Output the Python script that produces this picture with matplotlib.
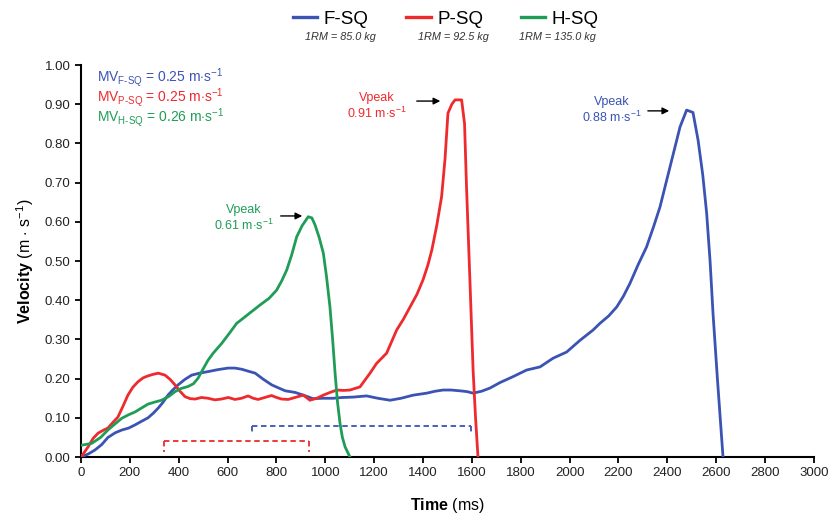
import matplotlib
matplotlib.use("Agg")
import matplotlib.pyplot as plt
from matplotlib.lines import Line2D

plt.rcParams["font.family"] = ["Liberation Sans", "DejaVu Sans"]
plt.rcParams["mathtext.fontset"] = "custom"
plt.rcParams["mathtext.rm"] = "Liberation Sans"
plt.rcParams["mathtext.it"] = "Liberation Sans:italic"
plt.rcParams["mathtext.bf"] = "Liberation Sans:bold"

BLUE = "#3b53b3"
RED = "#ee2a2d"
GREEN = "#1f9d57"

# F-SQ (blue)
fsq_time = [0, 30, 57, 85, 110, 140, 167, 195, 221, 250, 274, 296, 316, 336, 356, 377, 397, 425,
            453, 485, 520, 560, 602, 630, 658, 685, 713, 745, 781, 810, 836, 876, 910, 950, 990,
            1032, 1070, 1114, 1169, 1215, 1265, 1310, 1360, 1415, 1450, 1482, 1515, 1551, 1580,
            1605, 1640, 1674, 1715, 1768, 1824, 1879, 1932, 1988, 2043, 2096, 2124, 2160, 2193,
            2220, 2247, 2280, 2315, 2345, 2370, 2411, 2452, 2479, 2505, 2526, 2545, 2561, 2575,
            2587, 2605, 2628]
fsq_vel = [0, 0.008, 0.018, 0.032, 0.05, 0.062, 0.069, 0.074, 0.082, 0.092, 0.10, 0.112, 0.125,
           0.14, 0.158, 0.172, 0.184, 0.198, 0.209, 0.214, 0.218, 0.223, 0.227, 0.227, 0.224, 0.219,
           0.214, 0.199, 0.184, 0.176, 0.169, 0.165, 0.158, 0.149, 0.150, 0.150, 0.152, 0.153, 0.156,
           0.150, 0.145, 0.150, 0.158, 0.163, 0.168, 0.171, 0.171, 0.169, 0.167, 0.163, 0.168, 0.176,
           0.19, 0.205, 0.222, 0.230, 0.252, 0.268, 0.298, 0.324, 0.341, 0.36, 0.383, 0.41, 0.443,
           0.49, 0.536, 0.59, 0.638, 0.74, 0.842, 0.885, 0.879, 0.808, 0.72, 0.622, 0.5, 0.367, 0.2, 0.0]

# P-SQ (red)
psq_time = [0, 29, 50, 70, 90, 110, 130, 151, 172, 192, 212, 233, 254, 274, 295, 316, 344, 365, 385,
            405, 426, 447, 467, 493, 520, 548, 575, 603, 630, 657, 684, 705, 725, 752, 780, 800, 821,
            848, 876, 910, 937, 965, 992, 1020, 1047, 1075, 1101, 1142, 1183, 1210, 1251, 1292, 1320,
            1347, 1375, 1400, 1420, 1436, 1456, 1476, 1490, 1502, 1518, 1531, 1558, 1570, 1578, 1592,
            1605, 1615, 1625]
psq_vel = [0, 0.026, 0.048, 0.061, 0.068, 0.074, 0.088, 0.102, 0.13, 0.158, 0.178, 0.192, 0.202,
           0.207, 0.211, 0.214, 0.209, 0.198, 0.184, 0.168, 0.154, 0.149, 0.148, 0.152, 0.150, 0.146,
           0.148, 0.152, 0.147, 0.150, 0.156, 0.150, 0.147, 0.152, 0.157, 0.152, 0.148, 0.147, 0.152,
           0.158, 0.145, 0.150, 0.158, 0.165, 0.171, 0.170, 0.171, 0.179, 0.214, 0.239, 0.265, 0.324,
           0.352, 0.383, 0.415, 0.452, 0.49, 0.528, 0.59, 0.664, 0.76, 0.877, 0.90, 0.911, 0.911,
           0.85, 0.69, 0.45, 0.222, 0.10, 0.0]

# H-SQ (green)
hsq_time = [0, 44, 80, 110, 140, 167, 195, 221, 250, 274, 300, 330, 360, 385, 410, 438, 460, 479,
            500, 520, 541, 576, 610, 637, 680, 733, 770, 801, 822, 842, 862, 883, 905, 930, 945, 958,
            975, 992, 1005, 1019, 1030, 1040, 1050, 1060, 1070, 1081, 1101]
hsq_vel = [0.03, 0.035, 0.05, 0.069, 0.085, 0.099, 0.108, 0.115, 0.126, 0.135, 0.14, 0.145, 0.155,
           0.167, 0.175, 0.180, 0.187, 0.201, 0.225, 0.247, 0.265, 0.29, 0.318, 0.341, 0.362, 0.388,
           0.405, 0.426, 0.45, 0.477, 0.515, 0.562, 0.59, 0.613, 0.61, 0.592, 0.56, 0.52, 0.46,
           0.383, 0.3, 0.214, 0.14, 0.087, 0.05, 0.026, 0.0]

series_names = ["F-SQ", "P-SQ", "H-SQ"]
one_rm_labels = ["1RM = 85.0 kg", "1RM = 92.5 kg", "1RM = 135.0 kg"]
mean_velocities = [0.25, 0.25, 0.26]
peak_velocities = [0.88, 0.91, 0.61]

# dashed phase brackets: start, end (ms) and level (m/s)
red_phase = (340, 935, 0.04)
blue_phase = (700, 1595, 0.08)


def draw_bracket(ax, phase, drop, color):
    start, end, level = phase
    kw = dict(color=color, linestyle=(0, (3, 2)), linewidth=1.3)
    ax.plot([start, end], [level, level], **kw)
    ax.plot([start, start], [level, level - drop], **kw)
    ax.plot([end, end], [level, level - drop], **kw)


def main():
    fig = plt.figure(figsize=(8.3, 5.2), dpi=100)
    ax = fig.add_axes([0.0976, 0.121, 0.883, 0.754])

    colors = [BLUE, RED, GREEN]
    ax.plot(fsq_time, fsq_vel, color=BLUE, linewidth=2.0, zorder=3)
    ax.plot(psq_time, psq_vel, color=RED, linewidth=2.0, zorder=3)
    ax.plot(hsq_time, hsq_vel, color=GREEN, linewidth=2.0, zorder=3)

    draw_bracket(ax, red_phase, 0.027, RED)
    draw_bracket(ax, blue_phase, 0.024, BLUE)

    ax.set_xlim(0, 3000)
    ax.set_ylim(0, 1.0)
    ax.set_xticks(range(0, 3001, 200))
    ax.set_yticks([i / 10 for i in range(11)])
    ax.set_yticklabels([f"{i / 10:.2f}" for i in range(11)])
    for side in ("top", "right"):
        ax.spines[side].set_visible(False)
    for side in ("left", "bottom"):
        ax.spines[side].set_linewidth(1.5)
    ax.tick_params(direction="out", length=4, width=1.3, labelsize=9.5, labelcolor="#222222")

    ax.set_xlabel(r"$\mathbf{Time}$ (ms)", fontsize=11.5, labelpad=12)
    ax.set_ylabel(r"$\mathbf{Velocity}$ (m $\cdot$ s$^{-1}$)", fontsize=11.5, labelpad=6)

    # mean velocity labels
    for i, (name, mv, color) in enumerate(zip(series_names, mean_velocities, colors)):
        ax.text(0.022, 0.969 - i * 0.052,
                rf"MV$_{{\text{{{name}}}}}$ = {mv:.2f} m$\cdot$s$^{{-1}}$",
                transform=ax.transAxes, color=color, fontsize=10, va="center", ha="left")

    # peak velocity annotations
    peaks = [
        (BLUE, peak_velocities[0], 2172, 0.905, 2309, 2419, 0.883),
        (RED, peak_velocities[1], 1212, 0.915, 1363, 1482, 0.908),
        (GREEN, peak_velocities[2], 667, 0.630, 806, 917, 0.615),
    ]
    for color, vp, tx, ty, a0, a1, ay in peaks:
        ax.text(tx, ty, "Vpeak", color=color, fontsize=9, ha="center", va="center")
        ax.text(tx, ty - 0.038, rf"{vp:.2f} m$\cdot$s$^{{-1}}$", color=color, fontsize=9,
                ha="center", va="center")
        ax.annotate("", xy=(a1, ay), xytext=(a0, ay),
                    arrowprops=dict(arrowstyle="-|>", color="black", lw=1.0, mutation_scale=10))

    handles = [Line2D([], [], color=c, linewidth=2.4) for c in colors]
    fig.legend(handles, series_names, loc="upper center", bbox_to_anchor=(0.537, 1.012), ncol=3,
               frameon=False, fontsize=13.5, handlelength=1.3, columnspacing=2.0, handletextpad=0.35)
    for x, label in zip([0.41, 0.546, 0.671], one_rm_labels):
        fig.text(x, 0.929, label, fontsize=7.8, style="italic", ha="center", va="center",
                 color="#333333")

    fig.savefig("out.png", dpi=100)
    plt.close(fig)


if __name__ == "__main__":
    main()
